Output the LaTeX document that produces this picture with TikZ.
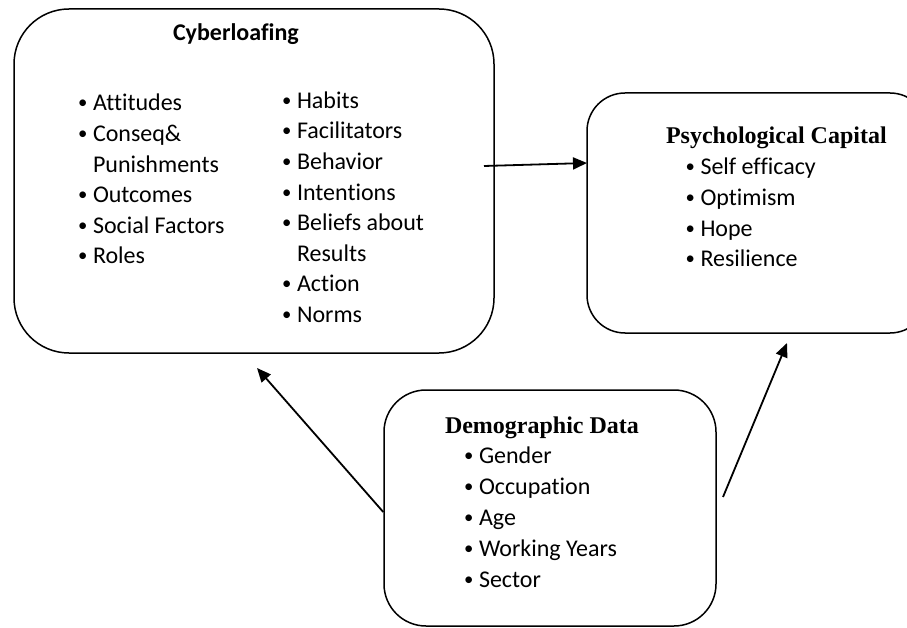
\documentclass[tikz,border=0pt]{standalone}
\usepackage{fontspec}
\setmainfont{Liberation Serif}
\newfontfamily\carlito[Ligatures=NoCommon]{Carlito}
\usetikzlibrary{arrows.meta}
\tikzset{
  boxnode/.style={draw=black, line width=1.5pt, inner sep=0pt, fill=none},
  listnode/.style={anchor=base west, inner sep=0pt, outer sep=0pt, font=\carlito\fontsize{24}{30.6}\selectfont},
  titlenode/.style={anchor=base west, inner sep=0pt, outer sep=0pt},
  arr/.style={line width=1.8pt, -{Triangle[length=14pt,width=12pt]}}
}
\newcommand{\bul}{\makebox[15pt][l]{\raisebox{2pt}{\scalebox{0.78}{•}}}}
\begin{document}
\begin{tikzpicture}[x=1pt,y=-1pt]
\clip (0,0) rectangle (907,628);
\fill[white] (0,0) rectangle (907,628);
% boxes
\node[boxnode, rounded corners=55pt, minimum width=480pt, minimum height=344pt] (cyber) at (254,181) {};
\node[boxnode, rounded corners=38pt, minimum width=341pt, minimum height=240pt] (psych) at (757.5,213) {};
\node[boxnode, rounded corners=42pt, minimum width=332pt, minimum height=236pt] (demo) at (550,508) {};
% titles
\node[titlenode, font=\carlito\bfseries\fontsize{24}{28}\selectfont] (cybertitle) at (173,40.5) {Cyberloafing};
\node[titlenode, font=\bfseries\fontsize{24}{28}\selectfont] (psychtitle) at (666,144) {Psychological Capital};
\node[titlenode, font=\bfseries\fontsize{24}{28}\selectfont] (demotitle) at (445,433) {Demographic Data};
% lists
\node[listnode] (cyberleft) at (78,111) {\begin{tabular}[t]{@{}l@{}}
\bul Attitudes\\
\bul Conseq\&\\
\hspace*{15pt}Punishments\\
\bul Outcomes\\
\bul Social Factors\\
\bul Roles
\end{tabular}};
\node[listnode] (cyberright) at (282,108.3) {\begin{tabular}[t]{@{}l@{}}
\bul Habits\\
\bul Facilitators\\
\bul Behavior\\
\bul Intentions\\
\bul Beliefs about\\
\hspace*{15pt}Results\\
\bul Action\\
\bul Norms
\end{tabular}};
\node[listnode] (psychlist) at (685.5,175) {\begin{tabular}[t]{@{}l@{}}
\bul Self efficacy\\
\bul Optimism\\
\bul Hope\\
\bul Resilience
\end{tabular}};
\node[listnode, font=\carlito\fontsize{24}{31}\selectfont] (demolist) at (464,463) {\begin{tabular}[t]{@{}l@{}}
\bul Gender\\
\bul Occupation\\
\bul Age\\
\bul Working Years\\
\bul Sector
\end{tabular}};
% connectors
\coordinate (a1s) at (484,166);
\coordinate (a1e) at (587,163);
\coordinate (a2e) at (257,368);
\coordinate (a3s) at (723,497);
\coordinate (a3e) at (787,343);
\draw[arr] (a1s) -- (a1e);
\draw[arr] (demo.west) ++(0,4) -- (a2e);
\draw[arr] (a3s) -- (a3e);
\end{tikzpicture}
\end{document}
